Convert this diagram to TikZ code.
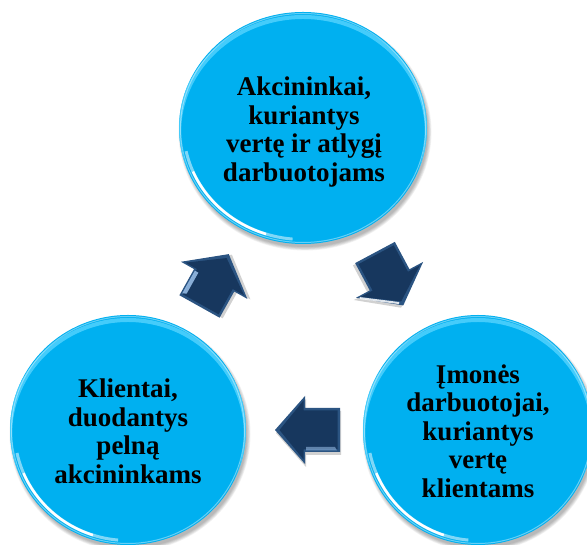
\documentclass[tikz,border=0pt]{standalone}
\usepackage{fontspec}
\setmainfont{Liberation Serif}
\usetikzlibrary{shapes.geometric}

\definecolor{bubblefill}{HTML}{00B0F0}
\definecolor{bubblerim}{HTML}{5CD6FF}
\definecolor{arrowfill}{HTML}{17375E}
\definecolor{arrowedge}{HTML}{2B5482}
\definecolor{arrowlight}{HTML}{9CC2EC}

\tikzset{
  bubbletext/.style={align=center, inner sep=0pt, text=black,
    font=\fontsize{27}{28.5}\selectfont\bfseries},
  arrowshadow/.style={fill=black, opacity=0.18},
}

% cx, cy, rx, ry : a glossy round button
\newcommand\bubble[4]{%
  \foreach \k in {0,...,5}
    \fill[black, opacity=0.05] (#1+2,#2-4) ellipse ({#3+\k*0.7-1} and {#4+\k*0.7-1});
  \fill[bubblefill] (#1,#2) ellipse ({#3} and {#4});
  \begin{scope}
    \clip (#1,#2) ellipse ({#3} and {#4});
    \draw[bubblerim, line width=4pt, opacity=0.75] (#1,#2-5) ellipse ({#3} and {#4});
    \draw[white, line width=1pt, opacity=0.4] (#1,#2) ellipse ({#3-1.5} and {#4-1.5});
    \draw[white, line width=3pt, opacity=0.5]
      (#1,#2) ++(192:{#3-4.5} and {#4-4.5}) arc[start angle=192, end angle=265, x radius={#3-4.5}, y radius={#4-4.5}];
    \draw[white, line width=2.5pt, opacity=1]
      (#1,#2) ++(203:{#3-4.5} and {#4-4.5}) arc[start angle=203, end angle=252, x radius={#3-4.5}, y radius={#4-4.5}];
  \end{scope}
}

% block arrow along +x : length, head start, shaft half width, head half width
\newcommand\arrowoutline[4]{(0,#3) -- (#2,#3) -- (#2,#4) -- (#1,0) -- (#2,-#4) -- (#2,-#3) -- (0,-#3) -- cycle}
\newcommand\arrowinner[4]{(2.5,#3-2.5) -- (#2+1.5,#3-2.5) -- (#2+1.5,#4-4.5) -- (#1-4.5,0) -- (#2+1.5,-#4+4.5) -- (#2+1.5,-#3+2.5) -- (2.5,-#3+2.5) -- cycle}

\begin{document}
\begin{tikzpicture}[x=1pt, y=1pt]
  \useasboundingbox (0,0) rectangle (587,545);
  \fill[white] (0,0) rectangle (587,545);

  % the three buttons
  \bubble{303}{417}{124}{116}
  \bubble{128}{115}{118}{115}
  \bubble{478}{115}{115}{115}

  \node[bubbletext] (owners) at (304,413) {Akcininkai,\\kuriantys\\vertę ir atlygį\\darbuotojams};
  \node[bubbletext] (staff) at (478,114) {Įmonės\\darbuotojai,\\kuriantys\\vertę\\klientams};
  \node[bubbletext] (clients) at (128,113.5) {Klientai,\\duodantys\\pelną\\akcininkams};

  % arrow: clients -> owners
  \begin{scope}[shift={(199.5,238.5)}, rotate=60.8]
    \fill[arrowshadow, shift={(1,-3)}] \arrowoutline{60}{30}{23}{38};
    \fill[arrowedge] \arrowoutline{60}{30}{23}{38};
    \fill[arrowfill] \arrowinner{60}{30}{23}{38};
    \fill[arrowlight, opacity=0.85] (3,21.5) -- (29,21.5) -- (29,17.5) -- (5,17.5) -- cycle;
  \end{scope}

  % arrow: owners -> staff
  \begin{scope}[shift={(375,292.5)}, rotate=-61.9]
    \fill[arrowshadow, shift={(1,-3)}] \arrowoutline{60}{31}{22.5}{38};
    \fill[arrowedge] \arrowoutline{60}{31}{22.5}{38};
    \fill[arrowfill] \arrowinner{60}{31}{22.5}{38};
    \draw[white, line width=2pt, opacity=0.85] (33,-35) -- (56,-2.5);
  \end{scope}

  % arrow: staff -> clients
  \begin{scope}[shift={(340,115)}, rotate=180]
    \fill[arrowshadow, shift={(-1,3)}] \arrowoutline{65}{35}{22}{34};
    \fill[arrowedge] \arrowoutline{65}{35}{22}{34};
    \fill[arrowfill] \arrowinner{65}{35}{22}{34};
    \fill[arrowlight, opacity=0.55] (3,20.5) -- (34,20.5) -- (34,17) -- (5,17) -- cycle;
  \end{scope}
\end{tikzpicture}
\end{document}
